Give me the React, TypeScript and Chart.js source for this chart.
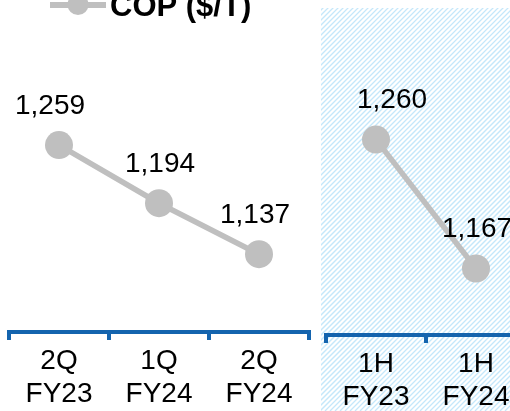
import React, { useEffect, useRef } from 'react';
import { Chart, registerables } from 'chart.js';

Chart.register(...registerables);

// ---- data ----
const SERIES_NAME = 'COP ($/T)';
const LEFT_CATEGORIES = [['2Q', 'FY23'], ['1Q', 'FY24'], ['2Q', 'FY24']];
const LEFT_VALUES = [1259, 1194, 1137];
const RIGHT_CATEGORIES = [['1H', 'FY23'], ['1H', 'FY24']];
const RIGHT_VALUES = [1260, 1167];

// ---- styling ----
const LEFT_LABEL_DX = [-9, 1, -4];
const RIGHT_LABEL_DX = [16, 1];
const FONT = "'Liberation Sans', Arial, Helvetica, sans-serif";
const GREY = '#bfbfbf';
const BLUE = '#1464ae';
const HATCH = '#c4e7fa';

const fmt = (v: number) => v.toLocaleString('en-US');

function labelsPlugin(dx: number[]) {
  return {
    id: 'valueLabels',
    afterDatasetsDraw(chart: any) {
      const ctx = chart.ctx;
      const meta = chart.getDatasetMeta(0);
      const data = chart.data.datasets[0].data as number[];
      ctx.save();
      ctx.font = `28px ${FONT}`;
      ctx.fillStyle = '#000';
      ctx.textAlign = 'center';
      ctx.textBaseline = 'middle';
      meta.data.forEach((pt: any, i: number) => {
        ctx.fillText(fmt(data[i]), pt.x + (dx[i] || 0), pt.y - 39);
      });
      ctx.restore();
    },
  };
}

function hatchPlugin(x0: number, y0: number) {
  return {
    id: 'hatch',
    beforeDraw(chart: any) {
      const ctx = chart.ctx;
      const w = chart.width;
      const h = chart.height;
      ctx.save();
      ctx.beginPath();
      ctx.rect(x0, y0, w - x0, h - y0);
      ctx.clip();
      ctx.strokeStyle = HATCH;
      ctx.lineWidth = 1.3;
      ctx.beginPath();
      for (let s = -h; s < w + h; s += 5) {
        ctx.moveTo(s, h);
        ctx.lineTo(s + h, 0);
      }
      ctx.stroke();
      ctx.restore();
    },
  };
}

const legendPlugin = {
  id: 'customLegend',
  afterDraw(chart: any) {
    const ctx = chart.ctx;
    ctx.save();
    ctx.strokeStyle = GREY;
    ctx.lineWidth = 6;
    ctx.beginPath();
    ctx.moveTo(50, 5);
    ctx.lineTo(106, 5);
    ctx.stroke();
    ctx.fillStyle = GREY;
    ctx.beginPath();
    ctx.arc(78, 4.5, 10.5, 0, Math.PI * 2);
    ctx.fill();
    ctx.fillStyle = '#000';
    ctx.font = `bold 31px ${FONT}`;
    ctx.textAlign = 'left';
    ctx.textBaseline = 'alphabetic';
    ctx.fillText(SERIES_NAME, 110, 16);
    ctx.restore();
  },
};

function makeConfig(
  categories: string[][],
  values: number[],
  yMin: number,
  yMax: number,
  pad: { left: number; right: number; top: number },
  axisHeight: number,
  tickLength: number,
  plugins: any[]
): any {
  return {
    type: 'line',
    data: {
      labels: categories,
      datasets: [
        {
          label: SERIES_NAME,
          data: values,
          borderColor: GREY,
          backgroundColor: GREY,
          borderWidth: 5.5,
          pointRadius: 14,
          pointHoverRadius: 14,
          pointBackgroundColor: GREY,
          pointBorderWidth: 0,
          tension: 0,
          clip: false,
        },
      ],
    },
    options: {
      responsive: false,
      animation: false,
      events: [],
      layout: {
        autoPadding: false,
        padding: { left: pad.left, right: pad.right, top: pad.top, bottom: 0 },
      },
      plugins: { legend: { display: false }, tooltip: { enabled: false } },
      scales: {
        x: {
          offset: true,
          border: { display: true, color: BLUE, width: 4 },
          grid: {
            offset: true,
            drawOnChartArea: false,
            drawTicks: true,
            tickLength,
            color: BLUE,
            lineWidth: 4,
          },
          ticks: {
            color: '#000',
            font: { family: FONT, size: 28, lineHeight: 1.18 },
            padding: 5,
            maxRotation: 0,
            autoSkip: false,
          },
          afterFit: (s: any) => {
            s.height = axisHeight;
            s.paddingLeft = 0;
            s.paddingRight = 0;
          },
        },
        y: { display: false, min: yMin, max: yMax },
      },
    },
    plugins,
  };
}

export default function App() {
  const leftRef = useRef<HTMLCanvasElement>(null);
  const rightRef = useRef<HTMLCanvasElement>(null);

  useEffect(() => {
    const left = new Chart(
      leftRef.current as HTMLCanvasElement,
      makeConfig(LEFT_CATEGORIES, LEFT_VALUES, 1050, 1400, { left: 9, right: 9, top: 19 }, 79, 8, [
        labelsPlugin(LEFT_LABEL_DX),
        legendPlugin,
      ])
    );
    const right = new Chart(
      rightRef.current as HTMLCanvasElement,
      makeConfig(RIGHT_CATEGORIES, RIGHT_VALUES, 1119, 1360, { left: 10, right: 10, top: 1 }, 76, 8, [
        hatchPlugin(5, 8),
        labelsPlugin(RIGHT_LABEL_DX),
      ])
    );
    return () => {
      left.destroy();
      right.destroy();
    };
  }, []);

  return (
    <div
      style={{
        position: 'absolute',
        left: 0,
        top: 0,
        width: 510,
        height: 411,
        overflow: 'hidden',
        background: '#fff',
      }}
    >
      <canvas
        ref={leftRef}
        width={318}
        height={411}
        style={{ position: 'absolute', left: 0, top: 0, width: 318, height: 411 }}
      />
      <canvas
        ref={rightRef}
        width={220}
        height={411}
        style={{ position: 'absolute', left: 316, top: 0, width: 220, height: 411 }}
      />
    </div>
  );
}
